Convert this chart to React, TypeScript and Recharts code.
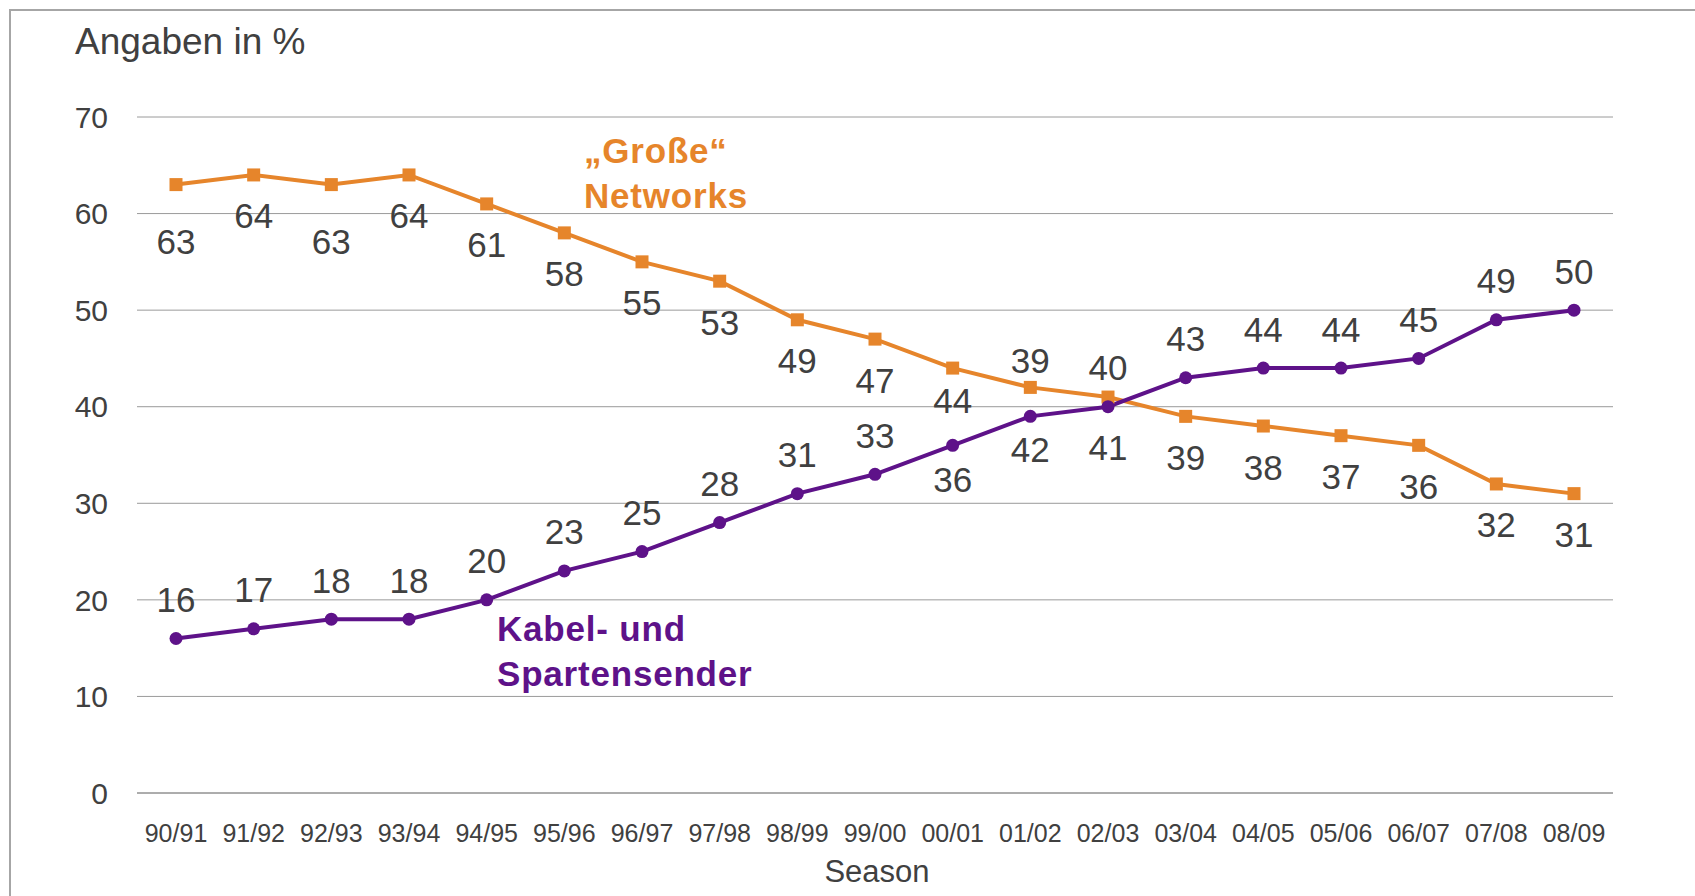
import React from 'react';
import { LineChart, Line, XAxis, YAxis, CartesianGrid, LabelList } from 'recharts';

const seasons = ['90/91', '91/92', '92/93', '93/94', '94/95', '95/96', '96/97', '97/98', '98/99', '99/00', '00/01', '01/02', '02/03', '03/04', '04/05', '05/06', '06/07', '07/08', '08/09'];
const networks = [63, 64, 63, 64, 61, 58, 55, 53, 49, 47, 44, 42, 41, 39, 38, 37, 36, 32, 31];
const kabel = [16, 17, 18, 18, 20, 23, 25, 28, 31, 33, 36, 39, 40, 43, 44, 44, 45, 49, 50];
const yTicks = [0, 10, 20, 30, 40, 50, 60, 70];

const data = seasons.map((s, i) => ({ season: s, networks: networks[i], kabel: kabel[i] }));

// label placement (pixel offsets from the point, style only)
const orangeDy = [57, 41, 57, 41, 41, 41, 41, 41, 41, 41, 32, 62, 50, 41, 41, 41, 41, 41, 41];
const purpleDy = [-39, -39, -39, -39, -39, -39, -39, -39, -39, -39, 34, -56, -39, -39, -39, -39, -39, -39, -39];

const ORANGE = '#E6852B';
const PURPLE = '#5E1289';
const TEXT = '#404040';
const FONT = '"Liberation Sans", Arial, Helvetica, sans-serif';

const SquareDot = (props: any) => {
  const { cx, cy } = props;
  if (cx == null || cy == null) return null;
  return <rect x={cx - 6.5} y={cy - 6.5} width={13} height={13} fill={ORANGE} />;
};
const CircleDot = (props: any) => {
  const { cx, cy } = props;
  if (cx == null || cy == null) return null;
  return <circle cx={cx} cy={cy} r={6.5} fill={PURPLE} />;
};

const makeLabel = (dys: number[]) => (props: any) => {
  const { x, y, value, index } = props;
  return (
    <text x={x} y={y + dys[index]} textAnchor="middle" dominantBaseline="central" fill={TEXT} fontSize={35} fontFamily={FONT}>
      {value}
    </text>
  );
};

export default function App() {
  return (
    <div style={{ position: 'absolute', left: 0, top: 0, width: 1695, height: 896, background: '#fff', fontFamily: FONT }}>
      <div style={{ position: 'absolute', left: 9, top: 9, right: 0, bottom: 0, borderLeft: '2px solid #A6A6A6', borderTop: '2px solid #A6A6A6' }} />
      <LineChart width={1695} height={896} data={data} margin={{ top: 117, right: 82, left: 0, bottom: 0 }}>
        <CartesianGrid vertical={false} stroke="#9A9A9A" strokeWidth={1} />
        <XAxis
          dataKey="season"
          padding={{ left: 39, right: 39 }}
          tickLine={false}
          tickSize={0}
          tickMargin={31}
          axisLine={{ stroke: '#8C8C8C', strokeWidth: 1 }}
          tick={{ fill: TEXT, fontSize: 25, fontFamily: FONT }}
          interval={0}
          height={103}
        />
        <YAxis
          domain={[0, 70]}
          ticks={yTicks}
          width={137}
          tickLine={false}
          tickSize={0}
          tickMargin={29}
          axisLine={false}
          tick={{ fill: TEXT, fontSize: 30, fontFamily: FONT }}
          interval={0}
        />
        <Line type="linear" dataKey="networks" stroke={ORANGE} strokeWidth={4} dot={<SquareDot />} isAnimationActive={false}>
          <LabelList dataKey="networks" content={makeLabel(orangeDy)} />
        </Line>
        <Line type="linear" dataKey="kabel" stroke={PURPLE} strokeWidth={4} dot={<CircleDot />} isAnimationActive={false}>
          <LabelList dataKey="kabel" content={makeLabel(purpleDy)} />
        </Line>
      </LineChart>
      <svg width={1695} height={896} style={{ position: 'absolute', left: 0, top: 0, pointerEvents: 'none' }}>
        <text x={75} y={54} fill={TEXT} fontSize={37} fontFamily={FONT}>Angaben in %</text>
        <text x={584} y={163} fill={ORANGE} fontSize={35} fontWeight="bold" letterSpacing={0.8} fontFamily={FONT}>„Große“</text>
        <text x={584} y={208} fill={ORANGE} fontSize={35} fontWeight="bold" letterSpacing={0.8} fontFamily={FONT}>Networks</text>
        <text x={497} y={641} fill={PURPLE} fontSize={35} fontWeight="bold" letterSpacing={0.8} fontFamily={FONT}>Kabel- und</text>
        <text x={497} y={686} fill={PURPLE} fontSize={35} fontWeight="bold" letterSpacing={0.8} fontFamily={FONT}>Spartensender</text>
        <text x={877} y={882} textAnchor="middle" fill={TEXT} fontSize={31} fontFamily={FONT}>Season</text>
      </svg>
    </div>
  );
}
